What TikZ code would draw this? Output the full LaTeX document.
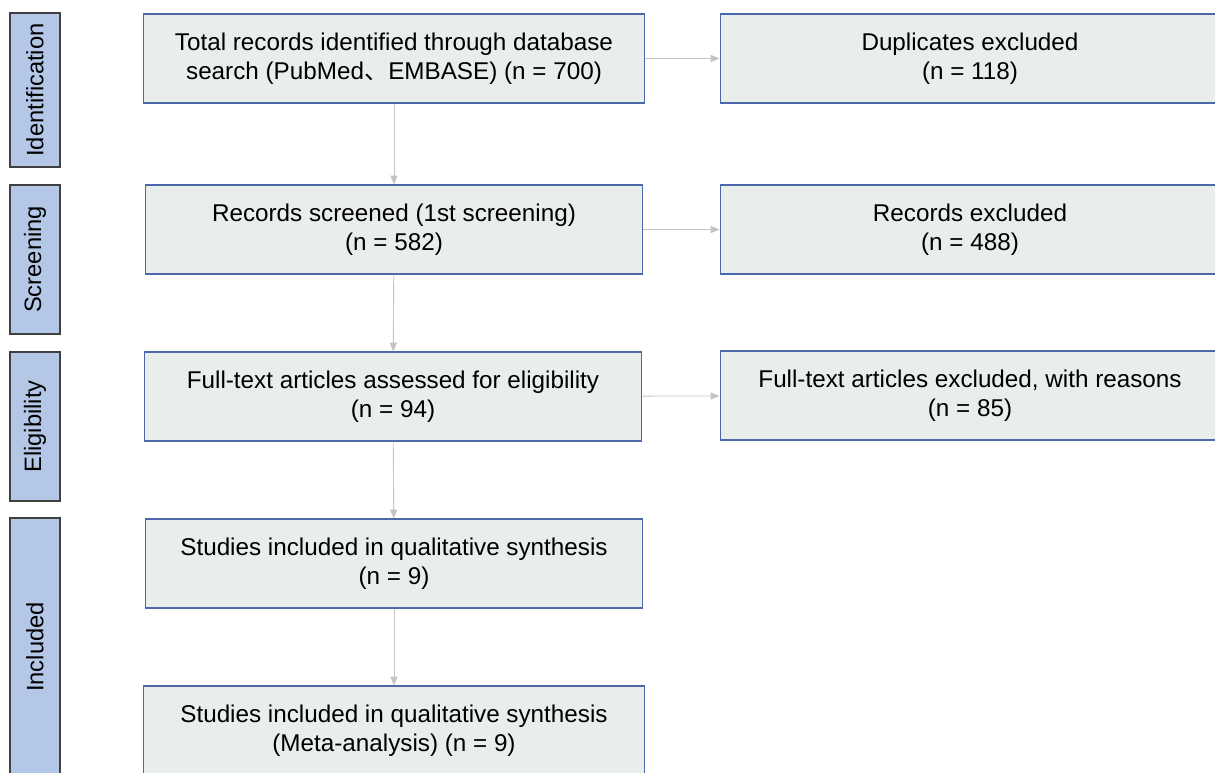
\documentclass[tikz,border=0pt]{standalone}
\usepackage{fontspec}
\setmainfont{Liberation Sans}
\newfontfamily\cjk{Noto Sans CJK SC}
\usepackage{tikz}
\usepackage{xcolor}
\usetikzlibrary{arrows.meta}
\definecolor{boxfill}{HTML}{E9EDEC}
\definecolor{boxline}{HTML}{4A68AA}
\definecolor{phasefill}{HTML}{B4C7E7}
\definecolor{phaseline}{HTML}{404040}
\definecolor{arrowgray}{HTML}{C4C4C4}

\begin{document}
\begin{tikzpicture}[x=0.02cm,y=-0.02cm]
			\tikzstyle{every node}+=[inner sep=0pt, font=\fontsize{13.8}{16.2}\selectfont]
			\tikzstyle{stagebox}=[draw=boxline, fill=boxfill, line width=0.6pt, align=center, minimum width=9.96cm, minimum height=1.78cm]
			\tikzstyle{outbox}=[stagebox, minimum width=10cm]
			\tikzstyle{phase}=[draw=phaseline, fill=phasefill, line width=0.8pt, minimum height=1cm, rotate=90, font=\fontsize{13.5}{16}\selectfont]
			\tikzstyle{flow}=[draw=arrowgray, line width=0.5pt, -{Triangle[length=5pt,width=4pt]}]
			\useasboundingbox (0,0) rectangle (1215,772);
			\node [phase, minimum width=3.08cm] (ident) at (35,90) {Identification};
			\node [phase, minimum width=2.98cm] (screen) at (35,259.5) {Screening};
			\node [phase, minimum width=2.98cm] (elig) at (35,426.5) {Eligibility};
			\node [phase, minimum width=5.6cm] (incl) at (35,658) {};
			\node [rotate=90, font=\fontsize{13.5}{16}\selectfont] (incltext) at (35,647) {Included};
			\node [stagebox, minimum width=10.04cm] (total) at (394,58.5) {Total records identified through database\\search (PubMed{\cjk 、}EMBASE) (n = 700)};
			\node [stagebox] (screened) at (394,229.5) {Records screened (1st screening)\\(n = 582)};
			\node [stagebox] (fulltext) at (393,396.5) {Full-text articles assessed for eligibility\\(n = 94)};
			\node [stagebox] (qual) at (394,563.5) {Studies included in qualitative synthesis\\(n = 9)};
			\node [stagebox, minimum width=10.04cm] (meta) at (394,730.5) {Studies included in qualitative synthesis\\(Meta-analysis) (n = 9)};
			\node [outbox] (dup) at (970,58.5) {Duplicates excluded\\(n = 118)};
			\node [outbox] (recexcl) at (970,229.5) {Records excluded\\(n = 488)};
			\node [outbox] (ftexcl) at (970,395.5) {Full-text articles excluded, with reasons\\(n = 85)};
			\draw [flow] (total) -- (screened);
			\draw [flow] (screened) -- (fulltext);
			\draw [flow] (fulltext) -- (qual);
			\draw [flow] (qual) -- (meta);
			\draw [flow] (total) -- (dup);
			\draw [flow] (screened) -- (recexcl);
			\draw [flow] (fulltext) -- (ftexcl);
		\end{tikzpicture}
\end{document}
